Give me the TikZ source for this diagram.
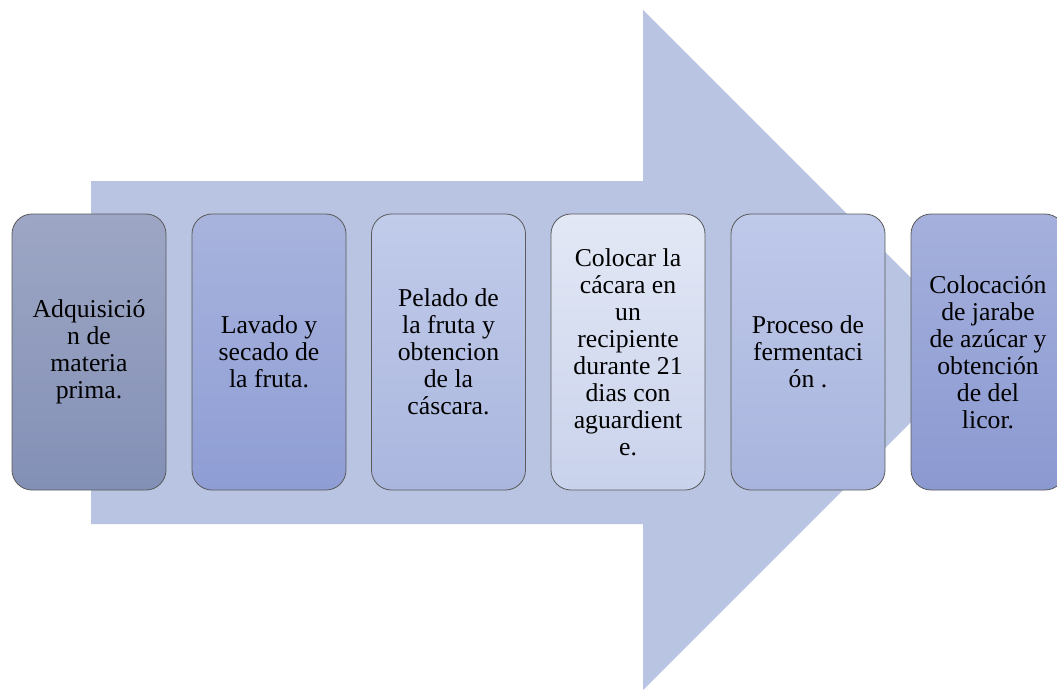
\documentclass[tikz,border=0pt]{standalone}
\usepackage{fontspec}
\setmainfont{Liberation Serif}
\newfontfamily\stepfont{Liberation Serif}
\definecolor{arrowfill}{HTML}{B8C4E2}
\definecolor{edgegray}{HTML}{5A5A5A}
\begin{document}
\begin{tikzpicture}[x=1pt,y=-1pt,
  stepbox/.style={draw=edgegray, line width=0.8pt, rounded corners=20pt,
    minimum width=154pt, minimum height=276pt, inner sep=0pt,
    align=center, font=\stepfont\fontsize{25.7}{27}\selectfont}]
  \useasboundingbox (0,0) rectangle (1057,691);
  % large background arrow
  \fill[arrowfill] (91,181) -- (643,181) -- (643,10) -- (983,350)
    -- (643,690) -- (643,524) -- (91,524) -- cycle;
  % process steps
  \node[stepbox, top color={rgb,255:red,157;green,166;blue,196},
    bottom color={rgb,255:red,131;green,144;blue,182}] (s1) at (89,352)
    {Adquisició\\n de\\materia\\prima.};
  \node[stepbox, top color={rgb,255:red,168;green,179;blue,221},
    bottom color={rgb,255:red,142;green,157;blue,212}] (s2) at (269,352)
    {Lavado y\\secado de\\la fruta.};
  \node[stepbox, top color={rgb,255:red,193;green,203;blue,234},
    bottom color={rgb,255:red,170;green,182;blue,222}] (s3) at (448.5,352)
    {Pelado de\\la fruta y\\obtencion\\de la\\cáscara.};
  \node[stepbox, top color={rgb,255:red,227;green,232;blue,245},
    bottom color={rgb,255:red,201;green,210;blue,236}] (s4) at (628,352)
    {Colocar la\\cácara en\\un\\recipiente\\durante 21\\dias con\\aguardient\\e.};
  \node[stepbox, top color={rgb,255:red,191;green,201;blue,234},
    bottom color={rgb,255:red,168;green,180;blue,221}] (s5) at (808,352)
    {Proceso de\\fermentaci\\ón .};
  \node[stepbox, top color={rgb,255:red,165;green,176;blue,220},
    bottom color={rgb,255:red,139;green,153;blue,209}] (s6) at (988,352)
    {Colocación\\de jarabe\\de azúcar y\\obtención\\de del\\licor.};
\end{tikzpicture}
\end{document}
